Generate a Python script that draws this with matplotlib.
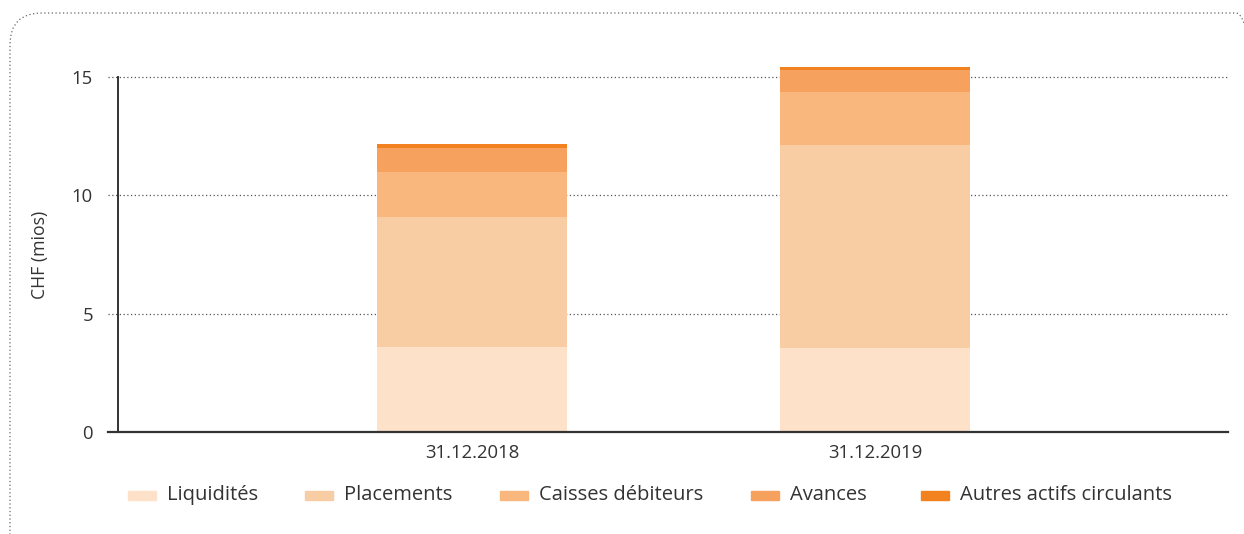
import matplotlib.pyplot as plt
import numpy as np
from matplotlib.patches import FancyBboxPatch, Rectangle
from matplotlib.transforms import IdentityTransform

plt.rcParams['font.family'] = ['Open Sans', 'DejaVu Sans']

# data (CHF mios)
dates = ['31.12.2018', '31.12.2019']
liquidites = [3.59, 3.55]
placements = [5.49, 8.57]
caisses = [1.92, 2.24]
avances = [1.00, 0.93]
autres = [0.17, 0.13]

series = [
    ('Liquidités', liquidites, '#FDE1C8'),
    ('Placements', placements, '#F9CDA4'),
    ('Caisses débiteurs', caisses, '#F9B67D'),
    ('Avances', avances, '#F6A25E'),
    ('Autres actifs circulants', autres, '#F28120'),
]

W, H = 1244, 534
fig = plt.figure(figsize=(W / 100, H / 100), dpi=100)
ax = fig.add_axes([118 / W, 1 - 432 / H, (1228 - 118) / W, (432 - 40) / H])

text_color = '#333333'
x = np.arange(len(dates))
bottom = np.zeros(len(dates))
for name, vals, col in series:
    ax.bar(x, vals, width=0.471, bottom=bottom, color=col, label=name, zorder=3)
    bottom += np.array(vals)

ymax = 15 * (432 - 40) / (432 - 77)
ax.set_ylim(0, ymax)
ax.set_xlim(-0.878, 1.876)

# dotted gridlines that run a bit to the left of the axis
trans = ax.get_yaxis_transform()
for yv in [5, 10, 15]:
    ax.plot([-0.009, 1], [yv, yv], transform=trans, clip_on=False,
            color='#555555', linestyle=(0, (1, 2)), linewidth=0.9, zorder=1)
ax.plot([-0.009, 1], [0, 0], transform=trans, clip_on=False,
        color='#333333', linewidth=1.6, zorder=4)

for s in ['top', 'right', 'bottom']:
    ax.spines[s].set_visible(False)
ax.spines['left'].set_bounds(0, 15)
ax.spines['left'].set_color('#333333')
ax.spines['left'].set_linewidth(1.4)

ax.set_yticks([0, 5, 10, 15])
ax.tick_params(axis='y', length=0, pad=18, labelsize=13.3, labelcolor=text_color)
ax.set_xticks(x)
ax.set_xticklabels(dates)
ax.tick_params(axis='x', length=0, pad=9, labelsize=13.3, labelcolor=text_color)

fig.text(40 / W, 1 - 255 / H, 'CHF (mios)', rotation=90, ha='center', va='center',
         fontsize=12.7, color=text_color)

# legend, placed item by item
leg_x = [128, 305, 500, 751, 921]
leg_y = 495
for (name, vals, col), lx in zip(series, leg_x):
    fig.patches.append(Rectangle((lx / W, 1 - (leg_y + 4.5) / H), 28 / W, 9 / H,
                                 transform=fig.transFigure, color=col))
    fig.text((lx + 39) / W, 1 - leg_y / H, name, ha='left', va='center',
             fontsize=14.5, color=text_color)

# rounded dotted frame around the chart (pixel coordinates)
frame = FancyBboxPatch((10, -60), 1268 - 10, (H - 13) + 60,
                       boxstyle='round,pad=0,rounding_size=32',
                       transform=IdentityTransform(), fill=False,
                       edgecolor='#666666', linestyle=(0, (1, 2)), linewidth=0.9)
fig.patches.append(frame)

fig.savefig('out.png', dpi=100)
